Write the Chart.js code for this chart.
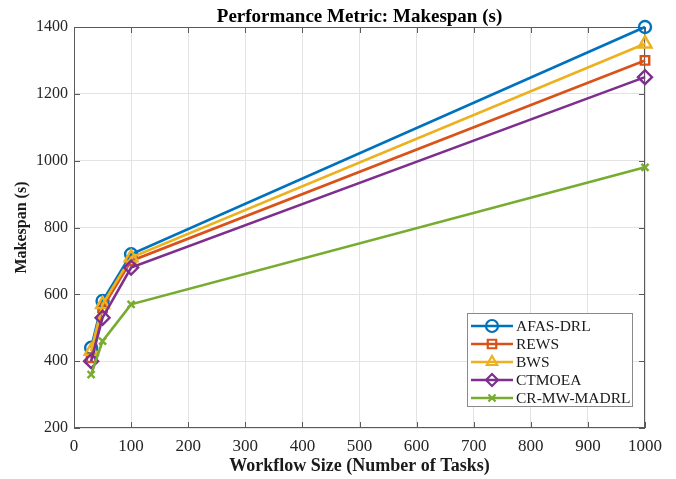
<!DOCTYPE html>
<html>
<head>
<meta charset="utf-8">
<script src="https://cdn.jsdelivr.net/npm/chart.js@4/dist/chart.umd.min.js"></script>
<style>
  html, body { margin: 0; padding: 0; background: #fff; }
  #wrap { width: 676px; height: 479px; }
</style>
</head>
<body>
<div id="wrap"><canvas id="c" width="676" height="479"></canvas></div>
<script>
// Workflow sizes (number of tasks) and makespan per scheduler
const workflowSizes = [30, 50, 100, 1000];
const afasDrl   = [440, 580, 720, 1400];
const rews      = [410, 560, 700, 1300];
const bws       = [430, 570, 710, 1350];
const ctmoea    = [400, 530, 680, 1250];
const crMwMadrl = [360, 460, 570, 980];

const seriesNames = ['AFAS-DRL', 'REWS', 'BWS', 'CTMOEA', 'CR-MW-MADRL'];
const seriesValues = [afasDrl, rews, bws, ctmoea, crMwMadrl];

const xTickRange = { min: 0, max: 1000, step: 100 };
const yTickRange = { min: 200, max: 1400, step: 200 };

const colors = ['#0072BD', '#D95319', '#EDB120', '#7E2F8E', '#77AC30'];
const markers = [
  { style: 'circle',   radius: 6 },
  { style: 'rect',     radius: 6 },
  { style: 'triangle', radius: 7.5 },
  { style: 'rectRot',  radius: 7 },
  { style: 'crossRot', radius: 5 }
];

const FONT = "'Liberation Serif', 'Times New Roman', serif";
const AXIS_COLOR = '#5a5a5a';
const TICK_LEN = 6;

const datasets = seriesNames.map((name, i) => ({
  label: name,
  data: workflowSizes.map((x, j) => ({ x: x, y: seriesValues[i][j] })),
  borderColor: colors[i],
  backgroundColor: colors[i],
  borderWidth: 2.6,
  pointStyle: markers[i].style,
  pointRadius: markers[i].radius,
  pointHoverRadius: markers[i].radius,
  pointBorderWidth: 2.4,
  pointBorderColor: colors[i],
  pointBackgroundColor: 'rgba(0,0,0,0)',
  tension: 0,
  fill: false,
  clip: false,
  // later series drawn on top
  order: seriesNames.length - i
}));

// Box outline with inward ticks on all four sides
const axesBox = {
  id: 'axesBox',
  beforeDatasetsDraw(chart) {
    const { ctx, chartArea: a, scales } = chart;
    ctx.save();
    ctx.strokeStyle = AXIS_COLOR;
    ctx.lineWidth = 1;
    ctx.strokeRect(a.left + 0.5, a.top + 0.5, a.right - a.left - 1, a.bottom - a.top - 1);
    ctx.beginPath();
    scales.x.ticks.forEach(t => {
      const px = Math.round(scales.x.getPixelForValue(t.value)) + 0.5;
      ctx.moveTo(px, a.bottom); ctx.lineTo(px, a.bottom - TICK_LEN);
      ctx.moveTo(px, a.top);    ctx.lineTo(px, a.top + TICK_LEN);
    });
    scales.y.ticks.forEach(t => {
      const py = Math.round(scales.y.getPixelForValue(t.value)) + 0.5;
      ctx.moveTo(a.left, py);  ctx.lineTo(a.left + TICK_LEN, py);
      ctx.moveTo(a.right, py); ctx.lineTo(a.right - TICK_LEN, py);
    });
    ctx.stroke();
    ctx.restore();
  }
};

// Legend box in the lower-right corner of the plot area
const insideLegend = {
  id: 'insideLegend',
  afterDraw(chart) {
    const { ctx, chartArea: a } = chart;
    const boxW = 165, boxH = 93, rowH = 18;
    const boxRight = a.right - 13;
    const boxBottom = a.bottom - 22;
    const bx = boxRight - boxW, by = boxBottom - boxH;
    ctx.save();
    ctx.fillStyle = '#fff';
    ctx.fillRect(bx, by, boxW, boxH);
    ctx.strokeStyle = '#8a8a8a';
    ctx.lineWidth = 1;
    ctx.strokeRect(Math.round(bx) + 0.5, Math.round(by) + 0.5, boxW, boxH);
    ctx.font = '15.5px ' + FONT;
    ctx.textBaseline = 'middle';
    ctx.textAlign = 'left';
    seriesNames.forEach((name, i) => {
      const cy = by + 13 + rowH * i;
      ctx.strokeStyle = colors[i];
      ctx.lineWidth = 2.6;
      ctx.beginPath();
      ctx.moveTo(bx + 4, cy);
      ctx.lineTo(bx + 46, cy);
      ctx.stroke();
      ctx.fillStyle = 'rgba(0,0,0,0)';
      ctx.lineWidth = 2.2;
      Chart.helpers.drawPoint(ctx, {
        pointStyle: markers[i].style,
        radius: Math.min(markers[i].radius, 6),
        borderWidth: 2.2,
        rotation: 0
      }, bx + 25, cy);
      ctx.fillStyle = '#1a1a1a';
      ctx.fillText(name, bx + 49, cy + 1);
    });
    ctx.restore();
  }
};

new Chart(document.getElementById('c'), {
  type: 'line',
  data: { datasets: datasets },
  plugins: [axesBox, insideLegend],
  options: {
    responsive: false,
    animation: false,
    devicePixelRatio: 1,
    layout: { padding: { left: 0, right: 31, top: 0, bottom: 0 } },
    plugins: {
      legend: { display: false },
      tooltip: { enabled: false },
      title: {
        display: true,
        fullSize: false,
        text: 'Performance Metric: Makespan (s)',
        color: '#000',
        font: { family: FONT, size: 19, weight: 'bold', lineHeight: 1 },
        padding: { top: 8, bottom: 0 }
      }
    },
    scales: {
      x: {
        type: 'linear',
        min: xTickRange.min,
        max: xTickRange.max,
        afterFit(scale) { scale.height = 51; },
        ticks: {
          stepSize: xTickRange.step,
          color: '#262626',
          padding: 8,
          maxRotation: 0,
          font: { family: FONT, size: 17 },
          callback: v => String(v)
        },
        grid: { color: '#e3e3e3', drawTicks: false, lineWidth: 1 },
        border: { display: false },
        title: {
          display: true,
          text: 'Workflow Size (Number of Tasks)',
          color: '#1a1a1a',
          font: { family: FONT, size: 18, weight: 'bold', lineHeight: 1.2 },
          padding: { top: 0, bottom: 2 }
        }
      },
      y: {
        type: 'linear',
        min: yTickRange.min,
        max: yTickRange.max,
        afterFit(scale) { scale.width = 74; },
        ticks: {
          stepSize: yTickRange.step,
          color: '#262626',
          padding: 6,
          font: { family: FONT, size: 16 },
          callback: v => String(v)
        },
        grid: { color: '#e3e3e3', drawTicks: false, lineWidth: 1 },
        border: { display: false },
        title: {
          display: true,
          text: 'Makespan (s)',
          color: '#1a1a1a',
          font: { family: FONT, size: 16, weight: 'bold' },
          padding: { top: 12, bottom: 0 }
        }
      }
    }
  }
});
</script>
</body>
</html>
